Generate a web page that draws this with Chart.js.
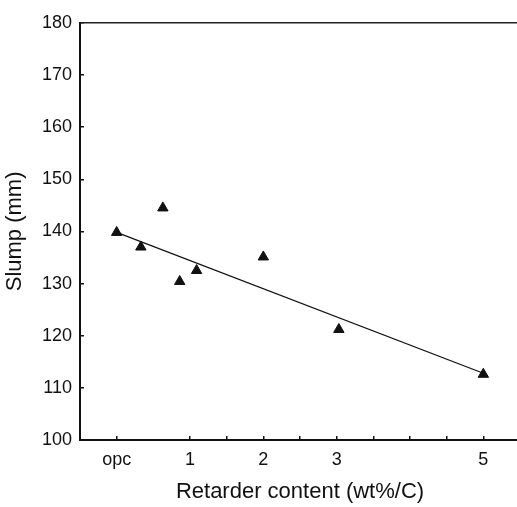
<!DOCTYPE html>
<html>
<head>
<meta charset="utf-8">
<script src="https://cdn.jsdelivr.net/npm/chart.js@4/dist/chart.umd.min.js"></script>
<style>
  html, body { margin: 0; padding: 0; background: #fff; overflow: hidden; }
  #wrap { width: 520px; height: 507px; }
</style>
</head>
<body>
<div id="wrap"><canvas id="slump-chart" width="520" height="507"></canvas></div>
<script>
// measured points (retarder content, slump)
const contentX = [0, 0.33, 0.63, 0.86, 1.09, 2, 3.03, 5];
const slumpY = [139.8, 137.0, 144.5, 130.4, 132.5, 135.1, 121.2, 112.6];

// fitted line end points
const fitX = [0, 5];
const fitY = [139.8, 112.8];

// x axis ticks
const xTickValues = [0, 1, 2, 3, 5];
const xTickLabels = ['opc', '1', '2', '3', '5'];
const xMinorTicks = [0, 1, 1.5, 2, 2.5, 3, 3.5, 4, 4.5, 5];

const ink = '#111';
const fontFamily = '"Liberation Sans", Arial, Helvetica, sans-serif';

const ctx = document.getElementById('slump-chart').getContext('2d');

// no extra side padding from tick labels, the plot runs to the canvas edge
function noSidePadding(scale) {
    scale.paddingLeft = 0;
    scale.paddingRight = 0;
}

new Chart(ctx, {
    type: 'scatter',
    data: {
        datasets: [
            {
                label: 'Slump',
                data: contentX.map((x, i) => ({ x: x, y: slumpY[i] })),
                pointStyle: 'triangle',
                pointRadius: 6,
                pointBackgroundColor: ink,
                pointBorderColor: ink,
                pointBorderWidth: 1,
                showLine: false
            },
            {
                label: 'Fit',
                data: fitX.map((x, i) => ({ x: x, y: fitY[i] })),
                showLine: true,
                borderColor: ink,
                borderWidth: 1.3,
                pointRadius: 0,
                fill: false
            }
        ]
    },
    options: {
        responsive: false,
        animation: false,
        layout: {
            autoPadding: false,
            padding: { top: 14, left: 0, right: 0, bottom: 0 }
        },
        plugins: {
            legend: { display: false },
            tooltip: { enabled: false }
        },
        scales: {
            x: {
                type: 'linear',
                position: 'bottom',
                min: -0.5,
                max: 5.5,
                afterBuildTicks: scale => {
                    scale.ticks = xMinorTicks.map(v => ({ value: v }));
                },
                afterFit: scale => {
                    scale.height = 67;
                    noSidePadding(scale);
                },
                ticks: {
                    autoSkip: false,
                    maxRotation: 0,
                    padding: 13,
                    color: ink,
                    font: { family: fontFamily, size: 18 },
                    callback: value => {
                        const i = xTickValues.indexOf(value);
                        return i >= 0 ? xTickLabels[i] : '';
                    }
                },
                grid: {
                    drawOnChartArea: false,
                    drawTicks: true,
                    tickLength: -4,
                    color: ink,
                    lineWidth: 1.5
                },
                border: { display: true, color: ink, width: 2 },
                title: {
                    display: true,
                    text: 'Retarder content (wt%/C)',
                    color: ink,
                    font: { family: fontFamily, size: 22 },
                    padding: { top: 0, bottom: 2 }
                }
            },
            xTop: {
                type: 'linear',
                position: 'top',
                min: -0.5,
                max: 5.5,
                afterFit: scale => {
                    scale.height = 0;
                    noSidePadding(scale);
                },
                ticks: { display: false },
                grid: { display: false },
                border: { display: true, color: '#222', width: 1.5 }
            },
            y: {
                min: 100,
                max: 180,
                afterFit: scale => { scale.width = 80; },
                ticks: {
                    stepSize: 10,
                    padding: 12,
                    color: ink,
                    font: { family: fontFamily, size: 18 }
                },
                grid: {
                    drawOnChartArea: false,
                    drawTicks: true,
                    tickLength: -4,
                    color: ink,
                    lineWidth: 1.5
                },
                border: { display: true, color: ink, width: 2 },
                title: {
                    display: true,
                    text: 'Slump (mm)',
                    color: ink,
                    font: { family: fontFamily, size: 22 },
                    padding: { top: 2, bottom: 0 }
                }
            }
        }
    }
});
</script>
</body>
</html>
